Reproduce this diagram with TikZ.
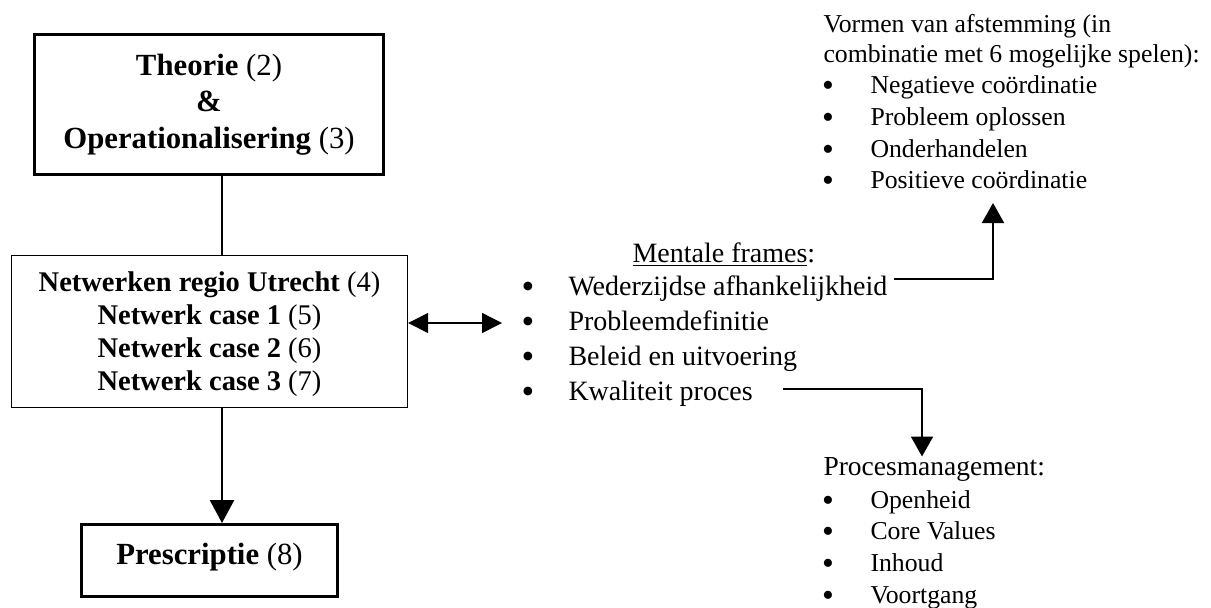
\documentclass[tikz,border=0pt]{standalone}
\usepackage{fontspec}
\setmainfont{Liberation Serif}
\usetikzlibrary{arrows.meta,calc}
\begin{document}
\begin{tikzpicture}[x=0.4pt,y=-0.4pt,
  heavybox/.style={draw,line width=1.2pt,align=center,inner sep=0pt,
    font=\fontsize{12.3}{14.6}\selectfont},
  lightbox/.style={draw,line width=0.55pt,align=center,inner sep=0pt,
    font=\fontsize{11.4}{13.2}\selectfont},
  txt/.style={inner sep=0pt,anchor=base west,font=\fontsize{11.2}{13}\selectfont},
  small/.style={inner sep=0pt,anchor=base west,font=\fontsize{10.3}{12}\selectfont},
  dot/.style={inner sep=0pt,anchor=base,yshift=-1.3pt,font=\fontsize{14.5}{14}\selectfont},
  smalldot/.style={inner sep=0pt,anchor=base,yshift=-1.2pt,font=\fontsize{13.5}{14}\selectfont},
  stem/.style={line width=1.1pt},
  bigarrow/.style={line width=1.1pt,-{Triangle[length=9.2pt,width=9.6pt]}},
  twoway/.style={line width=0.55pt,{Triangle[length=8pt,width=8pt]}-{Triangle[length=8pt,width=8pt]}},
  link/.style={line width=0.8pt,-{Triangle[length=8pt,width=8.8pt]}}
]
\useasboundingbox (0,0) rectangle (1211,607);

% left column: the chapter blocks
\node[heavybox,minimum width=139.6pt,minimum height=56pt] (theory) at (209,104.5)
  {\textbf{Theorie} (2)\\\textbf{\&}\\\textbf{Operationalisering} (3)};
\node[lightbox,minimum width=158.4pt,minimum height=60.8pt,text depth=0pt] (cases) at (209.5,331.5)
  {\textbf{Netwerken regio Utrecht} (4)\\\textbf{Netwerk case 1} (5)\\
   \textbf{Netwerk case 2} (6)\\\textbf{Netwerk case 3} (7)};
\node[heavybox,minimum width=102.4pt,minimum height=28.8pt,text depth=5pt] (presc) at (209.5,560.5)
  {\textbf{Prescriptie} (8)};

\coordinate (spine) at (222,0);
\draw[stem] (theory.south -| spine) -- (cases.north -| spine);
\draw[bigarrow] (cases.south -| spine) -- (presc.north -| spine);

% mental frames list
\node[txt] (mf) at (632,262) {\underline{Mentale frames}:};
\node[dot] (b1) at (528,295) {•};
\node[dot] (b2) at (528,330) {•};
\node[dot] (b3) at (528,365) {•};
\node[dot] (b4) at (528,400) {•};
\node[txt] (wed) at (568,295) {Wederzijdse afhankelijkheid};
\node[txt] (prob) at (568,330) {Probleemdefinitie};
\node[txt] (bel) at (568,365) {Beleid en uitvoering};
\node[txt] (kw) at (568,400) {Kwaliteit proces};

\coordinate (mid) at (502,323);
\draw[twoway] (cases.east |- mid) -- (mid);

% forms of coordination
\node[small] (vorm) at (823,32) {Vormen van afstemming (in};
\node[small] (comb) at (823,62) {combinatie met 6 mogelijke spelen):};
\node[smalldot] (v1) at (828,93) {•};
\node[smalldot] (v2) at (828,125) {•};
\node[smalldot] (v3) at (828,157) {•};
\node[smalldot] (v4) at (828,188) {•};
\node[small] (neg) at (870,93) {Negatieve coördinatie};
\node[small] (opl) at (870,125) {Probleem oplossen};
\node[small] (ond) at (870,157) {Onderhandelen};
\node[small] (pos) at (870,188) {Positieve coördinatie};

% process management
\node[txt,font=\fontsize{11}{13}\selectfont] (pm) at (823,475) {Procesmanagement:};
\node[smalldot] (p1) at (828,508) {•};
\node[smalldot] (p2) at (828,539) {•};
\node[smalldot] (p3) at (828,571) {•};
\node[smalldot] (p4) at (828,603) {•};
\node[small] (open) at (870,508) {Openheid};
\node[small] (core) at (870,539) {Core Values};
\node[small] (inh) at (870,571) {Inhoud};
\node[small] (voort) at (870,603) {Voortgang};

% elbow connectors
\coordinate (uptip) at (993,203);
\draw[link] ($(wed.base east)+(6,-16)$) -| (uptip);
\coordinate (pmx) at (922,0);
\draw[link] ($(kw.base east)+(30,-11)$) -| (pm.north -| pmx);
\end{tikzpicture}
\end{document}
